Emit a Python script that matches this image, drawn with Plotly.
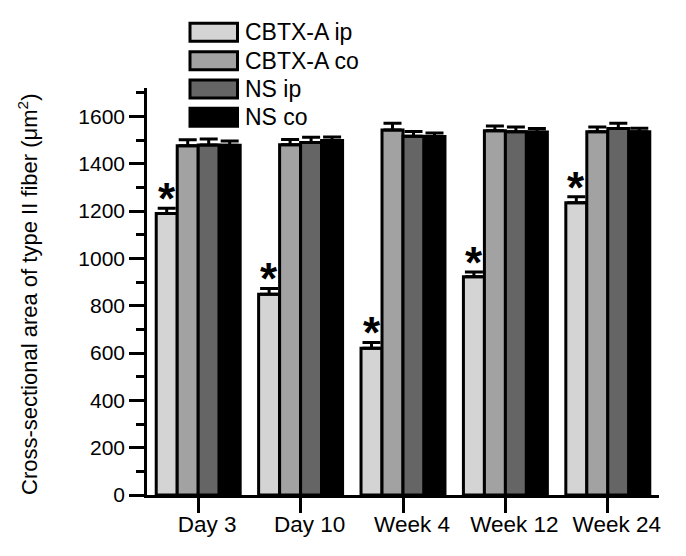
import plotly.graph_objects as go

categories = ["Day 3", "Day 10", "Week 4", "Week 12", "Week 24"]
series_names = ["CBTX-A ip", "CBTX-A co", "NS ip", "NS co"]
cbtx_ip = [1190, 848, 620, 922, 1235]
cbtx_ip_err = [22, 25, 25, 20, 25]
cbtx_co = [1476, 1480, 1543, 1539, 1535]
cbtx_co_err = [25, 22, 28, 20, 20]
ns_ip = [1479, 1490, 1516, 1535, 1549]
ns_ip_err = [25, 22, 20, 20, 22]
ns_co = [1478, 1498, 1515, 1534, 1535]
ns_co_err = [18, 15, 15, 15, 15]
significant = [True, True, True, True, True]

colors = ["#d4d4d4", "#a2a2a2", "#656565", "#000000"]
values = [cbtx_ip, cbtx_co, ns_ip, ns_co]
errors = [cbtx_ip_err, cbtx_co_err, ns_ip_err, ns_co_err]

FONT = "Liberation Sans, Arial, sans-serif"
OFF = 8  # page body margin
W, H = 686 - OFF, 556 - OFF
# plot area in screen pixels
SX0, SX1, SY0, SY1 = 147, 659, 88, 495
L, R, T, B = SX0 - OFF, W - (SX1 - OFF), SY0 - OFF, H - (SY1 - OFF)
PW, PH = SX1 - SX0, SY1 - SY0

def px(x):
    return (x - SX0) / PW

def py(y):
    return (SY1 - y) / PH

fig = go.Figure()
for name, vals, errs, col in zip(series_names, values, errors, colors):
    fig.add_trace(go.Bar(
        x=categories, y=vals, name=name,
        marker=dict(color=col, line=dict(color="black", width=3)),
        error_y=dict(type="data", symmetric=False, array=errs,
                     arrayminus=[0] * len(errs), color="black",
                     thickness=3, width=9),
        showlegend=False,
    ))

annotations = []
bar_w = 0.82 / 4
for i, (v, e, s) in enumerate(zip(cbtx_ip, cbtx_ip_err, significant)):
    if s:
        annotations.append(dict(
            x=i - 1.5 * bar_w, y=v + e, xref="x", yref="y",
            text="<b>*</b>", showarrow=False, yanchor="bottom",
            yshift=-17, font=dict(family=FONT, size=44, color="black")))

shapes = []
row_tops = [23.3, 51.7, 80.0, 108.3]
for name, col, top in zip(series_names, colors, row_tops):
    shapes.append(dict(type="rect", xref="paper", yref="paper",
                       x0=px(190), x1=px(237.5), y0=py(top + 18), y1=py(top),
                       fillcolor=col, line=dict(color="black", width=3)))
    annotations.append(dict(x=px(243), y=py(top + 9), xref="paper", yref="paper",
                            text=name, showarrow=False, xanchor="left",
                            yanchor="middle",
                            font=dict(family=FONT, size=23, color="black")))

annotations.append(dict(x=px(28), y=py(295), xref="paper", yref="paper",
                        text="Cross-sectional area of type II fiber (μm<sup>2</sup>)",
                        textangle=-90, showarrow=False, xanchor="center", yanchor="middle",
                        font=dict(family=FONT, size=22, color="black")))

fig.update_layout(
    width=W, height=H,
    margin=dict(l=L, r=R, t=T, b=B, pad=0),
    paper_bgcolor="white", plot_bgcolor="white",
    barmode="group", bargap=0.18, bargroupgap=0,
    font=dict(family=FONT, size=21, color="black"),
    shapes=shapes, annotations=annotations,
    xaxis=dict(range=[-0.5, 4.5], showline=True, linecolor="black", linewidth=2.5,
               ticks="outside", ticklen=15, tickwidth=2.5, tickcolor="black",
               showgrid=False, zeroline=False, ticklabelshift=9,
               ticklabelstandoff=-8,
               tickfont=dict(family=FONT, size=22.5, color="black")),
    yaxis=dict(range=[0, 1720], showline=True, linecolor="black", linewidth=2.5,
               ticks="outside", ticklen=15, tickwidth=2.5, tickcolor="black",
               tickvals=[0, 200, 400, 600, 800, 1000, 1200, 1400, 1600],
               minor=dict(tickvals=[100, 300, 500, 700, 900, 1100, 1300, 1500, 1700],
                          ticks="outside", ticklen=8, tickwidth=2.5, tickcolor="black"),
               showgrid=False, zeroline=False,
               tickfont=dict(family=FONT, size=21, color="black")),
)

fig.write_html("out.html")
